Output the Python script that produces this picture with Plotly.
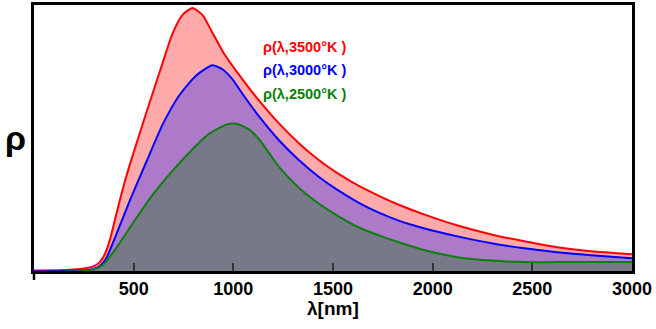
import plotly.graph_objects as go

# wavelength [nm] and relative spectral density (arbitrary units)
lam_3500 = [0, 150, 250, 300, 330, 355, 380, 405, 430, 465, 500, 565, 630, 695, 745, 795,
            845, 895, 950, 1030, 1130, 1230, 1330, 1430, 1530, 1630, 1730, 1830, 1960,
            2125, 2295, 2460, 2625, 2795, 3000]
rho_3500 = [1.5, 2, 3.5, 6, 10, 18, 32, 52, 72, 98, 121, 162, 202, 241, 260, 267,
            260, 242, 222, 199, 173, 150, 130, 113, 99, 87, 77, 68, 58,
            47, 38, 31, 25, 21, 18]

lam_3000 = [0, 150, 250, 300, 330, 365, 415, 480, 565, 645, 730, 815, 895, 945, 995, 1050,
            1130, 1230, 1330, 1430, 1530, 1630, 1730, 1830, 1960, 2125, 2295, 2460, 2625,
            2795, 3000]
rho_3000 = [0.5, 1, 1.5, 3, 6, 15, 39, 72, 112, 149, 179, 199, 209, 205, 195, 179,
            157, 133, 113, 96, 82, 70, 60, 52, 44, 36, 29, 24, 20, 17, 14]

lam_2500 = [0, 150, 250, 300, 345, 415, 495, 580, 680, 780, 880, 965, 1015, 1080, 1130,
            1230, 1330, 1430, 1530, 1630, 1730, 1830, 1960, 2125, 2295, 2460, 2625, 2795,
            3000]
rho_2500 = [0, 0.3, 1, 2.5, 7, 25, 49, 74, 99, 121, 140, 149, 150, 144, 134,
            106, 85, 69, 56, 45, 37, 30, 22, 15, 11.5, 10, 10, 10, 10]

labels = ["ρ(λ,3500°K )", "ρ(λ,3000°K )", "ρ(λ,2500°K )"]
x_ticks = [500, 1000, 1500, 2000, 2500, 3000]

FONT = "Liberation Sans, Arial, sans-serif"

fig = go.Figure()
series = [
    (lam_3500, rho_3500, "#ff0000", "#ffaaaa"),
    (lam_3000, rho_3000, "#0000ff", "#ad79c9"),
    (lam_2500, rho_2500, "#0a800a", "#777888"),
]
for lam, rho, lc, fc in series:
    fig.add_trace(go.Scatter(
        x=lam, y=rho, mode="lines", fill="tozeroy", fillcolor=fc,
        line=dict(color=lc, width=2, shape="spline", smoothing=0.6),
        hoverinfo="skip", showlegend=False))

label_colors = ["#ff0000", "#0000ff", "#0a800a"]
label_y = [228, 204, 180]
for t, c, yy in zip(labels, label_colors, label_y):
    fig.add_annotation(x=1140, y=yy, xref="x", yref="y", text="<b>%s</b>" % t,
                       showarrow=False, xanchor="left", yanchor="middle",
                       font=dict(family=FONT, size=14.5, color=c))

fig.add_annotation(x=-19 / 598, y=0.5, xref="paper", yref="paper", text="<b>ρ</b>",
                   showarrow=False, xanchor="center", yanchor="middle",
                   font=dict(family=FONT, size=34, color="black"))
fig.add_annotation(x=0.5, y=-38 / 269, xref="paper", yref="paper", text="<b>λ[nm]</b>",
                   showarrow=False, xanchor="center", yanchor="middle",
                   font=dict(family=FONT, size=19, color="black"))

fig.add_shape(type="line", xref="paper", yref="paper", x0=0, x1=0, y0=0, y1=-9 / 269,
              line=dict(color="black", width=2.5))

fig.update_xaxes(range=[0, 3000], tickvals=x_ticks, ticktext=[str(v) for v in x_ticks],
                 ticks="inside", ticklen=8, tickwidth=2, tickcolor="#333",
                 showline=True, linecolor="black", linewidth=2.5, mirror=True,
                 showgrid=False, zeroline=False,
                 tickfont=dict(family=FONT, size=18, color="black", weight="bold"))
fig.update_yaxes(range=[1, 270], showticklabels=False, ticks="",
                 showline=True, linecolor="black", linewidth=2.5, mirror=True,
                 showgrid=False, zeroline=False)

fig.update_layout(width=656, height=329, margin=dict(l=34, r=24, t=2, b=58),
                  plot_bgcolor="white", paper_bgcolor="white")

fig.write_html("out.html")
